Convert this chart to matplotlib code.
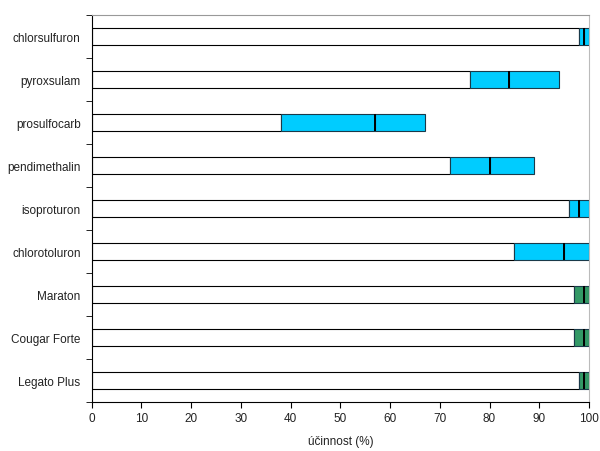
import matplotlib.pyplot as plt

plt.rcParams['font.family'] = ['Liberation Sans', 'DejaVu Sans']

# herbicides, top to bottom
names = ['chlorsulfuron', 'pyroxsulam', 'prosulfocarb', 'pendimethalin',
         'isoproturon', 'chlorotoluron', 'Maraton', 'Cougar Forte', 'Legato Plus']
min_eff = [98, 76, 38, 72, 96, 85, 97, 97, 98]
med_eff = [99, 84, 57, 80, 98, 95, 99, 99, 99]
max_eff = [100, 94, 67, 89, 100, 100, 100, 100, 100]
colors = ['#00CCFF'] * 6 + ['#339966'] * 3

fig = plt.figure(figsize=(6, 4.52), dpi=100)
ax = fig.add_axes([91.7 / 600, 1 - 402.7 / 452, (589 - 91.7) / 600, (402.7 - 15.7) / 452])

n = len(names)
y = [n - 1 - i for i in range(n)]
h = 0.4

# white part up to minimum
ax.barh(y, min_eff, height=h, color='white', edgecolor='black', linewidth=0.8)
# min -> median
lo = [m - a for a, m in zip(min_eff, med_eff)]
ax.barh(y, lo, left=min_eff, height=h, color=colors, edgecolor='#1a3a4a', linewidth=0.8)
# median -> max
hi = [b - m for m, b in zip(med_eff, max_eff)]
ax.barh(y, hi, left=med_eff, height=h, color=colors, edgecolor='#1a3a4a', linewidth=0.8)
# median marker
for yi, m in zip(y, med_eff):
    ax.plot([m, m], [yi - h / 2, yi + h / 2], color='black', linewidth=1.4,
            solid_capstyle='butt')

ax.set_xlim(0, 100)
ax.set_ylim(-0.5, n - 0.5)
ax.set_xticks(range(0, 101, 10))
ax.set_yticks(y)
ax.set_yticklabels(names)
ax.set_yticks([i - 0.5 for i in range(n + 1)], minor=True)
ax.tick_params(axis='y', which='major', length=0, pad=8, labelsize=8.5, labelcolor='#222222')
ax.tick_params(axis='y', which='minor', length=4, direction='out', color='black')
ax.tick_params(axis='x', length=4, direction='out', labelsize=8.5, labelcolor='#222222')
ax.set_xlabel('účinnost (%)', fontsize=8.5, color='#222222', labelpad=8)

ax.spines['left'].set_color('black')
ax.spines['bottom'].set_color('black')
ax.spines['top'].set_color('#999999')
ax.spines['right'].set_color('#bbbbbb')

fig.savefig('out.png', dpi=100)
